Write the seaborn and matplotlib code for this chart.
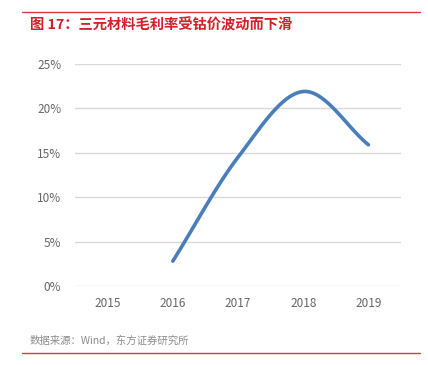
import numpy as np
import pandas as pd
import matplotlib
matplotlib.use("Agg")
import matplotlib.pyplot as plt
import seaborn as sns

years = ["2015", "2016", "2017", "2018", "2019"]
margin = [np.nan, 0.028, 0.145, 0.219, 0.159]
yticks = [0, 0.05, 0.10, 0.15, 0.20, 0.25]
ytick_labels = ["0%", "5%", "10%", "15%", "20%", "25%"]
title = "图 17：三元材料毛利率受钴价波动而下滑"
source = "数据来源：Wind，东方证券研究所"

sns.set_style("white")
plt.rcParams['font.family'] = ['Noto Sans CJK SC', 'DejaVu Sans']

# Smooth curve (Catmull-Rom through the data points, like Excel smoothed lines)
idx = [i for i, v in enumerate(margin) if not np.isnan(v)]
pts = np.array([[i, margin[i]] for i in idx], dtype=float)
ext = np.vstack([2 * pts[0] - pts[1], pts, 2 * pts[-1] - pts[-2]])
xs, ys = [], []
for k in range(1, len(ext) - 2):
    p0, p1, p2, p3 = ext[k - 1], ext[k], ext[k + 1], ext[k + 2]
    t = np.linspace(0, 1, 40)[:, None]
    seg = 0.5 * ((2 * p1) + (-p0 + p2) * t + (2 * p0 - 5 * p1 + 4 * p2 - p3) * t ** 2
                 + (-p0 + 3 * p1 - 3 * p2 + p3) * t ** 3)
    xs.extend(seg[:, 0]); ys.extend(seg[:, 1])
df = pd.DataFrame({"x": xs, "y": ys})

fig = plt.figure(figsize=(4.28, 3.65), dpi=100)
ax = fig.add_axes([75 / 428, 1 - 286 / 365, (401 - 75) / 428, (286 - 64) / 365])

sns.lineplot(data=df, x="x", y="y", ax=ax, color="#4a7ebb", linewidth=2.6, sort=False,
             solid_capstyle="round")

ax.set_xlim(-0.5, len(years) - 0.5)
ax.set_ylim(0, 0.25)
ax.set_xticks(range(len(years)))
ax.set_xticklabels(years)
ax.set_yticks(yticks)
ax.set_yticklabels(ytick_labels)
ax.set_xlabel("")
ax.set_ylabel("")
ax.grid(axis="y", color="#d9d9d9", linewidth=1)
ax.set_axisbelow(True)
for s in ax.spines.values():
    s.set_visible(False)
ax.tick_params(axis="both", length=0, labelsize=8.5, labelcolor="#666666")
ax.tick_params(axis="x", pad=8)
ax.tick_params(axis="y", pad=10)

fig.add_artist(plt.Line2D([22 / 428, 420 / 428], [1 - 12 / 365, 1 - 12 / 365], color="#d9393c", linewidth=1))
fig.add_artist(plt.Line2D([22 / 428, 420 / 428], [1 - 353 / 365, 1 - 353 / 365], color="#d9393c", linewidth=1))
fig.text(30 / 428, 1 - 25 / 365, title, color="#d0202a", fontsize=10.3, fontweight="bold", va="center", ha="left")
fig.text(30 / 428, 1 - 341 / 365, source, color="#8c8c8c", fontsize=7.5, va="center", ha="left")

fig.savefig("out.png", dpi=100)
